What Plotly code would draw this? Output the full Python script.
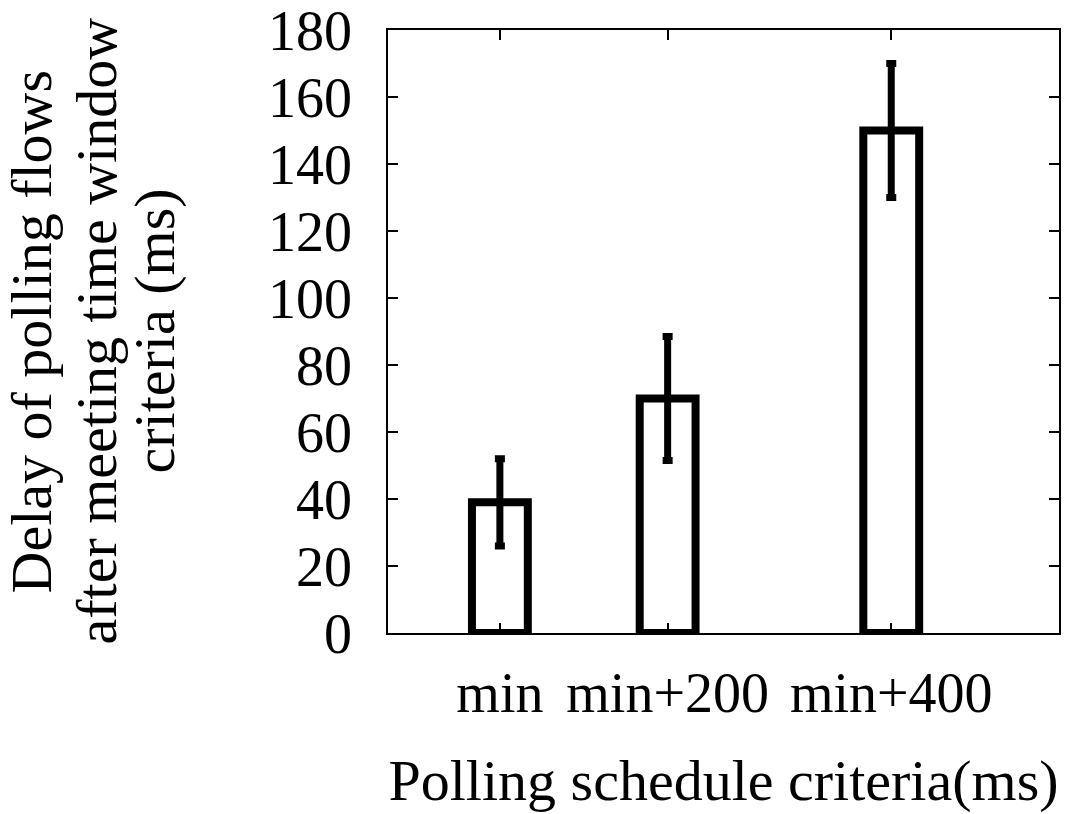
import plotly.graph_objects as go

categories = ["min", "min+200", "min+400"]
x_positions = [1.0, 2.0, 3.333]
delay_ms = [39, 70, 150]
delay_err = [13, 18.5, 20]
y_tick_values = [0, 20, 40, 60, 80, 100, 120, 140, 160, 180]
y_title_lines = ["Delay of polling flows", "after meeting time window", "criteria (ms)"]
x_title = "Polling schedule criteria(ms)"

FONT = "Liberation Serif, Times New Roman, serif"
FS = 56
FT = 58

fig = go.Figure()
fig.add_trace(go.Bar(
    x=x_positions, y=delay_ms, width=0.333,
    marker=dict(color="rgba(0,0,0,0)", line=dict(color="black", width=8)),
    error_y=dict(type="data", array=delay_err, visible=True,
                 color="black", thickness=7, width=5),
    cliponaxis=False, showlegend=False,
))

L, R, T, B = 388, 6, 30, 181
fig.update_layout(
    width=1065, height=814,
    margin=dict(l=L, r=R, t=T, b=B, autoexpand=False),
    paper_bgcolor="white", plot_bgcolor="white",
    font=dict(family=FONT, size=FS, color="black"),
    xaxis=dict(range=[0.333, 4.333], tickvals=x_positions, ticktext=categories,
               showline=True, mirror="ticks", linecolor="black", linewidth=1.5,
               ticks="inside", ticklen=10, tickwidth=1.5, tickcolor="black",
               showgrid=False, zeroline=False, ticklabelstandoff=10,
               automargin=False,
               tickfont=dict(family=FONT, size=FS),
               title=dict(text=x_title, font=dict(family=FONT, size=FT), standoff=36)),
    yaxis=dict(range=[0, 180.02], tickvals=y_tick_values,
               showline=True, mirror="ticks", linecolor="black", linewidth=1.5,
               ticks="inside", ticklen=10, tickwidth=1.5, tickcolor="black",
               showgrid=False, zeroline=False, ticklabelstandoff=23,
               ticklabeloverflow="allow", automargin=False,
               tickfont=dict(family=FONT, size=FS)),
)

centers = [31, 96, 154]
for line, cx in zip(y_title_lines, centers):
    fig.add_annotation(text=line, textangle=-90, xref="paper", yref="paper",
                       x=0, y=0.5, xanchor="center", yanchor="middle",
                       xshift=cx - L, showarrow=False,
                       font=dict(family=FONT, size=FT, color="black"))

fig.write_html("out.html")
